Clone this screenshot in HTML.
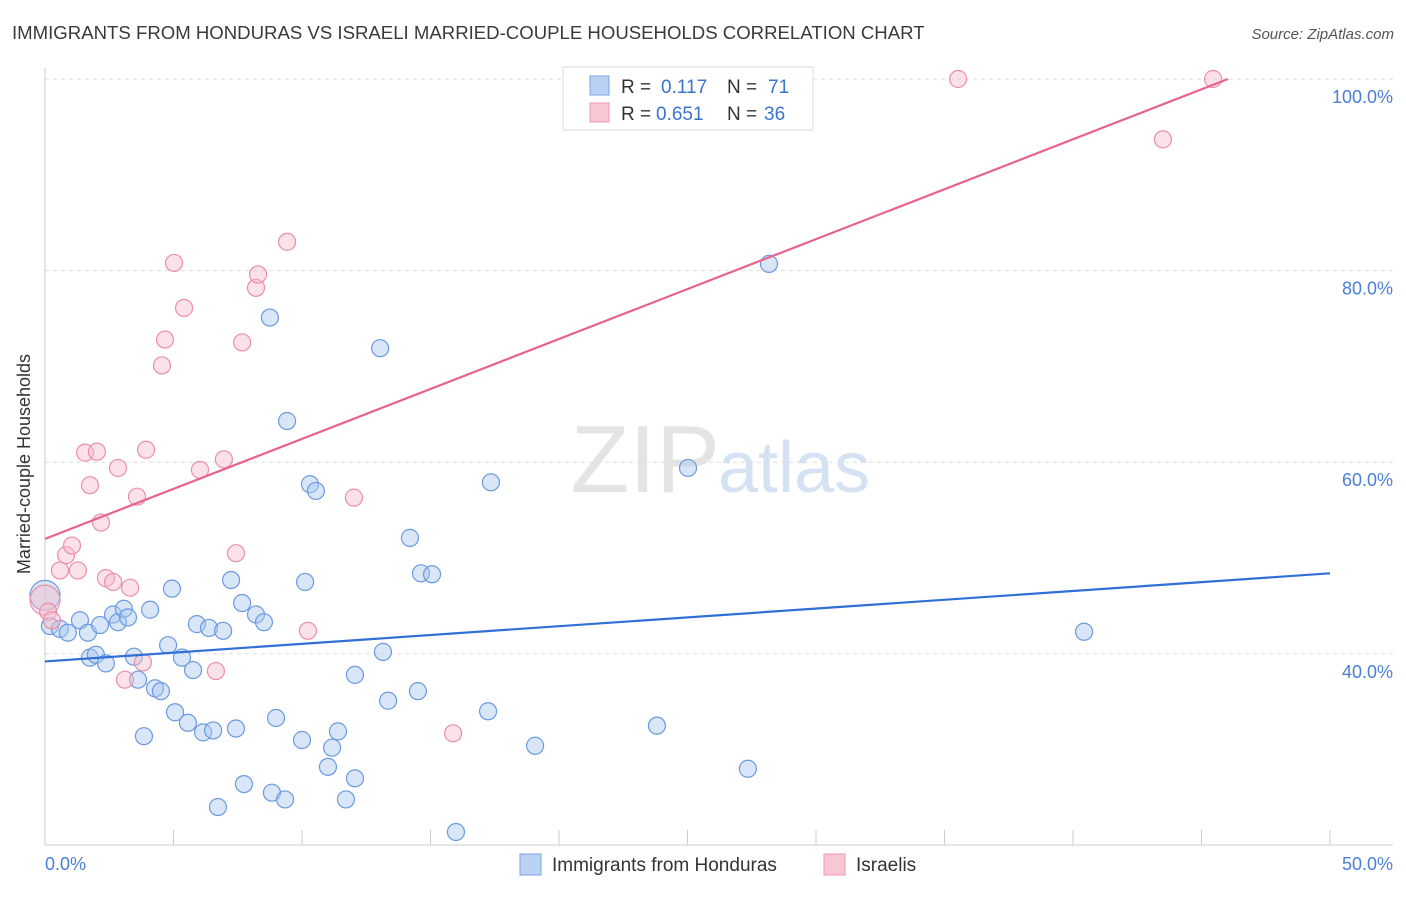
<!DOCTYPE html>
<html><head><meta charset="utf-8"><style>
body{margin:0;background:#fff;font-family:"Liberation Sans",sans-serif;}
svg text{font-family:"Liberation Sans",sans-serif;}
</style></head><body>
<svg id="chart" width="1406" height="892">
<text x="12" y="39" font-size="18.6" fill="#3a3a3a">IMMIGRANTS FROM HONDURAS VS ISRAELI MARRIED-COUPLE HOUSEHOLDS CORRELATION CHART</text>
<text x="1394" y="39" font-size="15" fill="#555" font-style="italic" text-anchor="end">Source: ZipAtlas.com</text>
<text x="720" y="492" font-size="96" fill="#e4e4e4" text-anchor="end" font-family="Liberation Serif">ZIP</text>
<text x="718" y="492" font-size="72" fill="#d5e2f3">atlas</text>
<g id="grid"></g>
<line x1="45" y1="68" x2="45" y2="845" stroke="#ccc"/>
<line x1="45" y1="845" x2="1393" y2="845" stroke="#ccc"/>
<g id="xticks"></g>
<text x="22" y="456" font-size="18" fill="#333" text-anchor="middle" transform="rotate(-90 30 456)">Married-couple Households</text>
<text x="45" y="870" font-size="18" fill="#4a7fd6">0.0%</text>
<text x="1393" y="870" font-size="18" fill="#4a7fd6" text-anchor="end">50.0%</text>
<g id="points"></g>
<g id="lines"></g>
<g>
<rect x="563" y="67" width="250" height="63" fill="#fff" stroke="#ddd"/>
<rect x="590" y="76" width="19" height="19" fill="#b9d2f3" stroke="#7aa5e0"/>
<rect x="590" y="103" width="19" height="19" fill="#f9c6d4" stroke="#ee97b0"/>
<text x="621" y="93" font-size="19" fill="#333">R =</text>
<text x="661" y="93" font-size="19" fill="#3b73d1">0.117</text>
<text x="727" y="93" font-size="19" fill="#333">N =</text>
<text x="768" y="93" font-size="19" fill="#3b73d1">71</text>
<text x="621" y="120" font-size="19" fill="#333">R =</text>
<text x="656" y="120" font-size="19" fill="#3b73d1">0.651</text>
<text x="727" y="120" font-size="19" fill="#333">N =</text>
<text x="764" y="120" font-size="19" fill="#3b73d1">36</text>
</g>
<g>
<rect x="520" y="854" width="21" height="21" fill="#b9d2f3" stroke="#7aa5e0"/>
<text x="552" y="871" font-size="19" fill="#333">Immigrants from Honduras</text>
<rect x="824" y="854" width="21" height="21" fill="#f9c6d4" stroke="#ee97b0"/>
<text x="856" y="871" font-size="19" fill="#333">Israelis</text>
</g>
</svg>
<script>
const yTicks=[40,60,80,100];
const xTicks=[0,5,10,15,20,25,30,35,40,45,50];
const blueX=[0,0.19,0.58,0.89,1.36,1.67,2.14,1.75,1.98,2.37,2.65,2.84,3.07,3.23,3.46,3.62,3.85,4.09,4.28,4.51,4.79,4.94,5.06,5.33,5.56,5.76,6.15,5.91,6.38,6.54,6.93,7.24,7.43,7.67,7.74,6.73,8.21,8.52,8.75,8.83,8.99,9.34,9.42,10.0,10.12,10.31,10.54,11.01,11.17,11.4,11.71,12.06,12.06,13.04,13.15,13.35,14.2,14.51,14.63,15.06,15.99,17.24,17.35,19.07,23.81,25.02,27.35,28.17,40.43];
const blueY=[46.1,42.9,42.6,42.2,43.5,42.2,43.0,39.6,39.9,39.0,44.1,43.3,44.7,43.8,39.7,37.3,31.4,44.6,36.4,36.1,40.9,46.8,33.9,39.6,32.8,38.3,31.8,43.1,42.7,32.0,42.4,47.7,32.2,45.3,26.4,24.0,44.1,43.3,75.1,25.5,33.3,24.8,64.3,31.0,47.5,57.7,57.0,28.2,30.2,31.9,24.8,27.0,37.8,71.9,40.2,35.1,52.1,36.1,48.4,48.3,21.4,34.0,57.9,30.4,32.5,59.4,28.0,80.7,42.3];
const pinkX=[0,0.12,0.27,0.58,0.82,1.05,1.28,1.56,1.75,2.02,2.18,2.37,2.65,2.84,3.11,3.31,3.58,3.81,3.93,4.55,4.67,5.02,5.41,6.03,6.65,6.96,7.43,7.67,8.21,8.29,9.42,10.23,12.02,15.88,35.53,43.5,45.45];
const pinkY=[45.6,44.4,43.5,48.7,50.3,51.3,48.7,61.0,57.6,61.1,53.7,47.9,47.5,59.4,37.3,46.9,56.4,39.1,61.3,70.1,72.8,80.8,76.1,59.2,38.2,60.3,50.5,72.5,78.2,79.6,83.0,42.4,56.3,31.7,100,93.7,100];
const blueTrend=[[0,39.2],[50,48.4]];
const pinkTrend=[[0,52.0],[46.03,100]];
const NS='http://www.w3.org/2000/svg';
const X=v=>45+v*25.7, Y=v=>79+(100-v)*9.58;
function mk(t,a,p){const e=document.createElementNS(NS,t);for(const k in a)e.setAttribute(k,a[k]);p.appendChild(e);return e;}
const grid=document.getElementById('grid');
yTicks.forEach(t=>{
 const l=mk('line',{x1:45,x2:1393,y1:Y(t),y2:Y(t),stroke:'#ddd','stroke-dasharray':'4 4'},grid);
 
 
 const tx=mk('text',{x:1393,y:Y(t)+24,'font-size':18,fill:'#4a7fd6','text-anchor':'end'},grid);
 tx.textContent=t.toFixed(1)+'%';
 
 
});
const xt=document.getElementById('xticks');
xTicks.forEach(t=>{
 const l=mk('line',{x1:X(t),x2:X(t),y1:830,y2:845,stroke:'#ccc'},xt);
 
 
});
const pts=document.getElementById('points');
function draw(xs,ys,fill,stroke,name){
 xs.forEach((x,i)=>{
  const r=(i===0)?15:8.5;
  const c=mk('circle',{cx:X(x),cy:Y(ys[i]),r:r,fill:fill,'fill-opacity':0.45,stroke:stroke,'stroke-width':1.2},pts);
  
  
 });
}
draw(blueX,blueY,'#a9c8f0','#6b9ae0','honduras-point');
draw(pinkX,pinkY,'#f7bccd','#ec8eaa','israelis-point');
const lg=document.getElementById('lines');
const b=mk('line',{x1:X(blueTrend[0][0]),y1:Y(blueTrend[0][1]),x2:X(blueTrend[1][0]),y2:Y(blueTrend[1][1]),stroke:'#2f6fd6','stroke-width':2.2},lg);


const p=mk('line',{x1:X(pinkTrend[0][0]),y1:Y(pinkTrend[0][1]),x2:X(pinkTrend[1][0]),y2:Y(pinkTrend[1][1]),stroke:'#e8628d','stroke-width':2.2},lg);


</script>
</body></html>
